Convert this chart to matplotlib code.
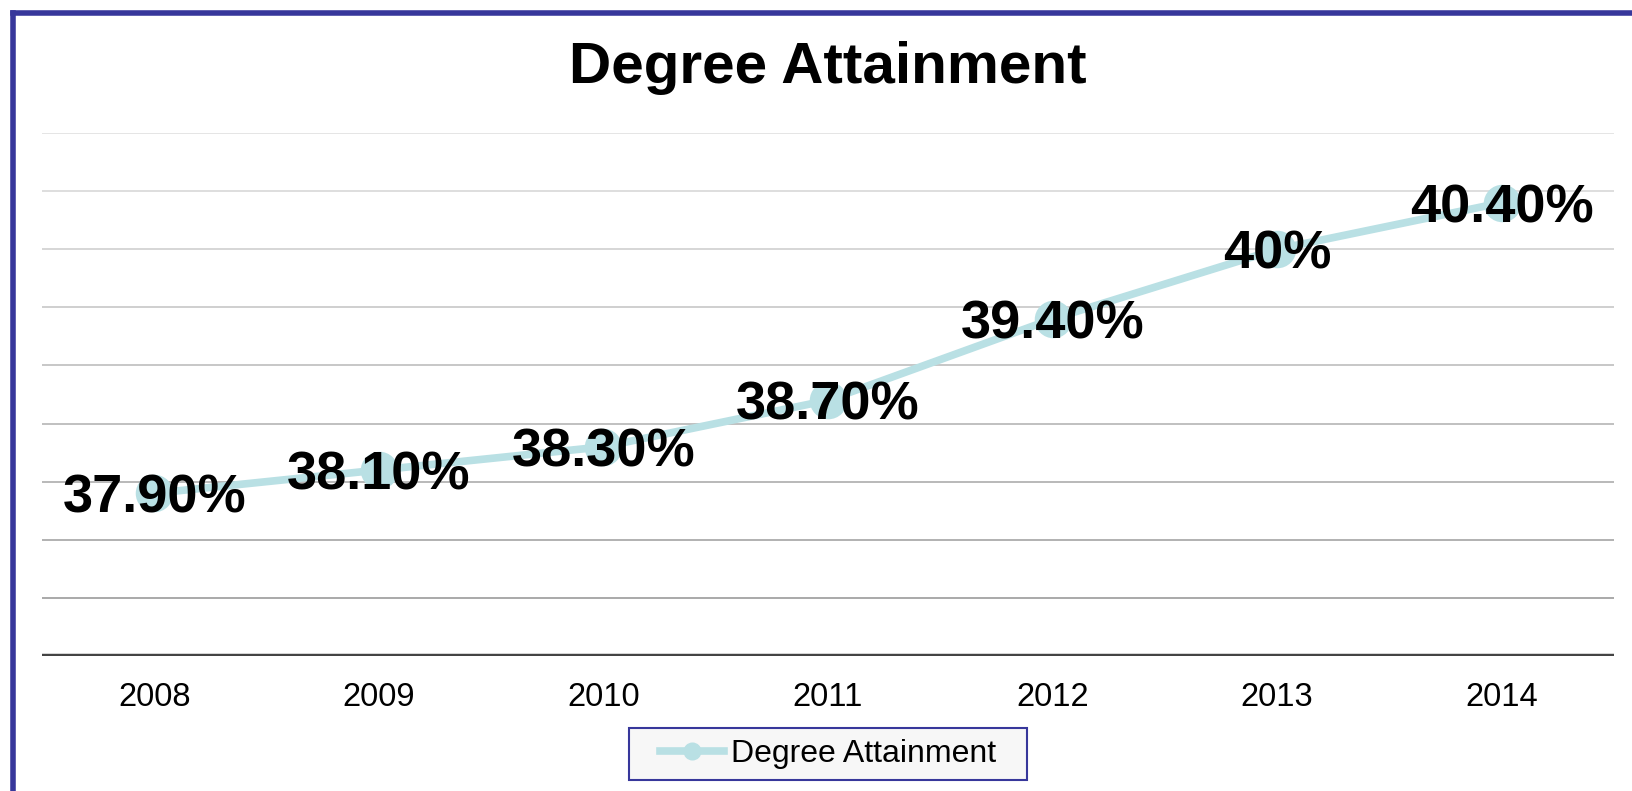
import numpy as np
from matplotlib import pyplot as plt
from matplotlib.lines import Line2D
from matplotlib.patches import Rectangle

plt.rcParams['font.family'] = ['Liberation Sans', 'DejaVu Sans']

YEARS = ['2008', '2009', '2010', '2011', '2012', '2013', '2014']
VALUES = [37.9, 38.1, 38.3, 38.7, 39.4, 40.0, 40.4]
LABELS = ['37.90%', '38.10%', '38.30%', '38.70%', '39.40%', '40%', '40.40%']
GRID_LEVELS = [37.0, 37.5, 38.0, 38.5, 39.0, 39.5, 40.0, 40.5, 41.0]

LINE_COLOR = '#b9e0e4'
BORDER_COLOR = '#37379b'
W, H = 1632, 791


def plot():
    fig = plt.figure(figsize=(W / 100, H / 100), dpi=100)
    ax = fig.add_axes([0.0257, 0.1707, 0.9633, 0.6612])

    x = np.arange(len(YEARS))

    # gridlines get darker towards the bottom
    greys = np.linspace(0.89, 0.64, len(GRID_LEVELS))[::-1]
    for level, g in zip(GRID_LEVELS, greys):
        ax.axhline(level, color=(g, g, g), lw=1.3, zorder=0)
    ax.axhline(36.5, color='#444444', lw=3.2, zorder=1)

    ax.plot(x, VALUES, color=LINE_COLOR, lw=5.5, marker='o', ms=27,
            markeredgewidth=0, label='Degree Attainment', zorder=2)

    for xi, val, lab in zip(x, VALUES, LABELS):
        ax.text(xi, val, lab, ha='center', va='center_baseline', fontsize=39,
                fontweight='bold', color='black', zorder=3)

    ax.set_xlim(-0.5, len(YEARS) - 0.5)
    ax.set_ylim(36.5, 41.0)
    ax.set_xticks(x)
    ax.set_xticklabels(YEARS, fontsize=23.5)
    ax.tick_params(axis='x', length=0, pad=19)
    ax.set_yticks([])
    for side in ax.spines:
        ax.spines[side].set_visible(False)

    fig.text(0.5074, 0.914, 'Degree Attainment', ha='center', va='center',
             fontsize=42, fontweight='bold')

    # legend box drawn separately so it can be wider than the entry
    fig.add_artist(Rectangle((629 / W, 1 - 780 / H), 398 / W, 52 / H,
                             transform=fig.transFigure, facecolor='#f7f7f7',
                             edgecolor=BORDER_COLOR, lw=1.5, zorder=1))
    handle = Line2D([], [], color=LINE_COLOR, lw=5.5, marker='o', ms=13,
                    markeredgewidth=0)
    leg = fig.legend([handle], ['Degree Attainment'], loc='center',
                     bbox_to_anchor=(0.5074, 0.047), fontsize=23,
                     frameon=False, handlelength=2.0,
                     handletextpad=0.2, borderpad=0.35, borderaxespad=0)
    leg.set_zorder(2)

    # outer frame, only left and top edges are visible
    fig.add_artist(Line2D([12.5 / W, 12.5 / W], [0, 1 - 12.5 / H],
                          transform=fig.transFigure, color=BORDER_COLOR, lw=4,
                          solid_capstyle='projecting'))
    fig.add_artist(Line2D([12.5 / W, 1], [1 - 12.5 / H, 1 - 12.5 / H],
                          transform=fig.transFigure, color=BORDER_COLOR, lw=4,
                          solid_capstyle='projecting'))

    fig.savefig('out.png', dpi=100)


if __name__ == '__main__':
    plot()
